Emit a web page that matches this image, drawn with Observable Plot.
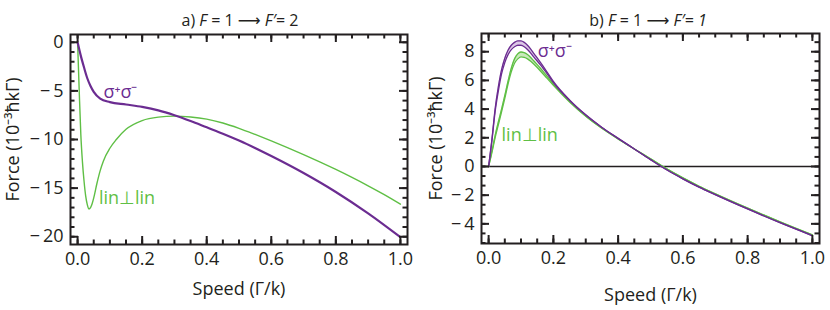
<!DOCTYPE html>
<html><head><meta charset="utf-8">
<script src="https://cdn.jsdelivr.net/npm/d3@7"></script>
<script src="https://cdn.jsdelivr.net/npm/@observablehq/plot@0.6"></script>
<style>
body{margin:0;background:#fff;}
#root{position:relative;width:830px;height:310px;font-family:"Open Sans",sans-serif;color:#231f20;overflow:hidden;}
.panel{position:absolute;top:0;}
.title{position:absolute;top:9px;font-family:"Open Sans",sans-serif;font-size:16px;line-height:22px;white-space:nowrap;transform:translateX(-50%);}
.arr{font-family:"DejaVu Sans";}
</style></head><body>
<div id="root">
 <div id="a" class="panel" style="left:0"></div>
 <div id="b" class="panel" style="left:415px"></div>
 <div class="title" style="left:240px">a) <i>F</i> = 1 <span class="arr">⟶</span> <i>F′</i>= 2</div>
 <div class="title" style="left:648px">b) <i>F</i> = 1 <span class="arr">⟶</span> <i>F′= 1</i></div>
</div>
<script>
// ---- Panel a) F=1 -> F'=2 ----
const speedSigmaA = [0, 0.01, 0.02, 0.03, 0.04, 0.05, 0.07, 0.1, 0.15, 0.2, 0.25, 0.3, 0.35, 0.4, 0.45, 0.5, 0.6, 0.7, 0.8, 0.9, 1.0];
const sigmaA = [0, -1.4, -2.6, -3.7, -4.5, -5.1, -5.8, -6.15, -6.4, -6.65, -7.0, -7.5, -8.1, -8.75, -9.4, -10.1, -11.7, -13.45, -15.4, -17.6, -20.05];
const speedLinA = [0, 0.005, 0.01, 0.015, 0.02, 0.025, 0.03, 0.035, 0.04, 0.045, 0.05, 0.06, 0.07, 0.08, 0.1, 0.12, 0.15, 0.2, 0.25, 0.3, 0.35, 0.4, 0.45, 0.5, 0.55, 0.6, 0.65, 0.7, 0.75, 0.8, 0.85, 0.9, 0.95, 1.0];
const linA = [0, -5, -9.5, -12.3, -14.3, -15.8, -16.7, -17.15, -17.0, -16.6, -16.0, -14.5, -13.2, -12.2, -10.9, -10.0, -8.95, -8.05, -7.7, -7.6, -7.68, -7.9, -8.3, -8.85, -9.48, -10.14, -10.83, -11.55, -12.3, -13.08, -13.9, -14.76, -15.67, -16.65];
const yMajorA = [-20, -15, -10, -5, 0];
const yMinorA = d3.range(-20, 1, 1);

// ---- Panel b) F=1 -> F'=1 ----
const speedB = [0, 0.01, 0.02, 0.03, 0.04, 0.05, 0.06, 0.07, 0.08, 0.09, 0.1, 0.11, 0.12, 0.13, 0.14, 0.16, 0.18, 0.2, 0.25, 0.3, 0.35, 0.4, 0.45, 0.5, 0.55, 0.6, 0.65, 0.7, 0.8, 0.9, 1.0];
const sigmaBHigh = [0, 1.85, 4.0, 5.55, 6.75, 7.55, 8.1, 8.45, 8.65, 8.75, 8.75, 8.65, 8.45, 8.18, 7.87, 7.25, 6.6, 5.93, 4.64, 3.6, 2.72, 1.96, 1.22, 0.48, -0.23, -0.86, -1.44, -1.96, -2.96, -3.92, -4.82];
const sigmaBLow = [0, 1.75, 3.8, 5.25, 6.45, 7.25, 7.8, 8.15, 8.35, 8.45, 8.45, 8.35, 8.15, 7.9, 7.62, 7.08, 6.48, 5.85, 4.6, 3.58, 2.72, 1.96, 1.22, 0.48, -0.23, -0.86, -1.44, -1.96, -2.96, -3.92, -4.82];
const linBHigh = [0, 1.05, 2.15, 3.1, 4.0, 4.95, 5.95, 6.85, 7.5, 7.85, 7.98, 7.93, 7.8, 7.6, 7.35, 6.85, 6.3, 5.75, 4.55, 3.52, 2.66, 1.92, 1.22, 0.53, -0.17, -0.8, -1.38, -1.9, -2.9, -3.86, -4.77];
const linBLow = [0, 0.95, 2.0, 2.9, 3.8, 4.75, 5.75, 6.6, 7.2, 7.5, 7.64, 7.6, 7.5, 7.33, 7.12, 6.66, 6.16, 5.66, 4.5, 3.5, 2.66, 1.92, 1.22, 0.53, -0.17, -0.8, -1.38, -1.9, -2.9, -3.86, -4.77];
const yMajorB = [-4, -2, 0, 2, 4, 6, 8];
const yMinorB = d3.range(-8, 14).map(k => k * 2 / 3);

const xMajor = [0, 0.2, 0.4, 0.6, 0.8, 1.0];
const xMinor = d3.range(0, 21).map(k => k * 0.05);

const seriesNames = ["σ⁺σ⁻", "lin⊥lin"];
const labelsA = [{name: seriesNames[0], s: 0.08, f: -5.15}, {name: seriesNames[1], s: 0.066, f: -16.0}];
const labelsB = [{name: seriesNames[0], s: 0.152, f: 8.0}, {name: seriesNames[1], s: 0.04, f: 2.15}];

const PURPLE = "#6b2c91", GREEN = "#5fbf45", PURPLE_FILL = "#dcc6e6", GREEN_FILL = "#c9e9bb", INK = "#231f20";
const FONT = "Open Sans";
const W = 415, H = 310;

const fmtY = d => d < 0 ? "\u2212\u2009" + Math.abs(d) : String(d);

// axis labels plus inward frame ticks on all four sides (tick length in px converted through the scale extent)
function frameAxes({xDomain, yDomain, margins, yMajor, yMinor, yLabelOffset, xLabelOffset}) {
  const [mt, mr, mb, ml] = margins;
  const kx = (xDomain[1] - xDomain[0]) / (W - ml - mr);
  const ky = (yDomain[1] - yDomain[0]) / (H - mt - mb);
  const m = [];
  m.push(Plot.axisY({ticks: yMajor, anchor: "left", tickSize: 0, tickPadding: 7, tickFormat: fmtY, fontSize: 18,
    label: "Force (10⁻³ħkΓ)", labelAnchor: "center", labelOffset: yLabelOffset, labelArrow: "none"}));
  m.push(Plot.axisX({ticks: xMajor, anchor: "bottom", tickSize: 0, tickPadding: 8, tickFormat: d3.format(".1f"), fontSize: 18,
    label: "Speed (Γ/k)", labelAnchor: "center", labelOffset: xLabelOffset, labelArrow: "none"}));
  const st = {stroke: INK, strokeWidth: 2};
  for (const [ticks, len] of [[yMajor, 8], [yMinor, 4.5]]) {
    m.push(Plot.ruleY(ticks, {y: d => d, x1: xDomain[0], x2: xDomain[0] + len * kx, ...st}));
    m.push(Plot.ruleY(ticks, {y: d => d, x1: xDomain[1] - len * kx, x2: xDomain[1], ...st}));
  }
  for (const [ticks, len] of [[xMajor, 8], [xMinor, 4.5]]) {
    m.push(Plot.ruleX(ticks, {x: d => d, y1: yDomain[0], y2: yDomain[0] + len * ky, ...st}));
    m.push(Plot.ruleX(ticks, {x: d => d, y1: yDomain[1] - len * ky, y2: yDomain[1], ...st}));
  }
  return m;
}

const commonStyle = {fontFamily: FONT, fontSize: "18px", color: INK, background: "transparent", overflow: "visible"};

// Panel a
const domA = {xDomain: [-0.022, 1.022], yDomain: [-20.8, 0.8], margins: [34, 8, 66, 70]};
const rowsSigmaA = speedSigmaA.map((s, i) => ({s, f: sigmaA[i]}));
const rowsLinA = speedLinA.map((s, i) => ({s, f: linA[i]}));
const chartA = Plot.plot({
  width: W, height: H,
  marginTop: domA.margins[0], marginRight: domA.margins[1], marginBottom: domA.margins[2], marginLeft: domA.margins[3],
  style: commonStyle,
  x: {domain: domA.xDomain},
  y: {domain: domA.yDomain},
  marks: [
    Plot.line(rowsLinA, {x: "s", y: "f", stroke: GREEN, strokeWidth: 1.4, curve: "monotone-x"}),
    Plot.line(rowsSigmaA, {x: "s", y: "f", stroke: PURPLE, strokeWidth: 2.2, curve: "monotone-x"}),
    Plot.text(labelsA, {x: "s", y: "f", text: "name", textAnchor: "start", fontSize: 18,
      fill: (d) => d.name === seriesNames[0] ? PURPLE : GREEN}),
    ...frameAxes({...domA, yMajor: yMajorA, yMinor: yMinorA, yLabelOffset: 64, xLabelOffset: 50}),
    Plot.frame({stroke: INK, strokeWidth: 2})
  ]
});
document.getElementById("a").append(chartA);

// Panel b
const domB = {xDomain: [-0.022, 1.022], yDomain: [-5.37, 9.27], margins: [33, 11, 67, 66]};
const rowsB = speedB.map((s, i) => ({s, sh: sigmaBHigh[i], sl: sigmaBLow[i], lh: linBHigh[i], ll: linBLow[i]}));
const chartB = Plot.plot({
  width: W, height: H,
  marginTop: domB.margins[0], marginRight: domB.margins[1], marginBottom: domB.margins[2], marginLeft: domB.margins[3],
  style: commonStyle,
  x: {domain: domB.xDomain},
  y: {domain: domB.yDomain},
  marks: [
    Plot.ruleY([0], {stroke: INK, strokeWidth: 1.6}),
    Plot.areaY(rowsB, {x: "s", y1: "ll", y2: "lh", fill: GREEN_FILL, curve: "monotone-x"}),
    Plot.line(rowsB, {x: "s", y: "lh", stroke: GREEN, strokeWidth: 1.3, curve: "monotone-x"}),
    Plot.line(rowsB, {x: "s", y: "ll", stroke: GREEN, strokeWidth: 1.3, curve: "monotone-x"}),
    Plot.areaY(rowsB, {x: "s", y1: "sl", y2: "sh", fill: PURPLE_FILL, curve: "monotone-x"}),
    Plot.line(rowsB, {x: "s", y: "sh", stroke: PURPLE, strokeWidth: 1.3, curve: "monotone-x"}),
    Plot.line(rowsB, {x: "s", y: "sl", stroke: PURPLE, strokeWidth: 1.3, curve: "monotone-x"}),
    Plot.text(labelsB, {x: "s", y: "f", text: "name", textAnchor: "start", fontSize: 18,
      fill: (d) => d.name === seriesNames[0] ? PURPLE : GREEN}),
    ...frameAxes({...domB, yMajor: yMajorB, yMinor: yMinorB, yLabelOffset: 52, xLabelOffset: 57}),
    Plot.frame({stroke: INK, strokeWidth: 2})
  ]
});
document.getElementById("b").append(chartB);
</script>
</body></html>
